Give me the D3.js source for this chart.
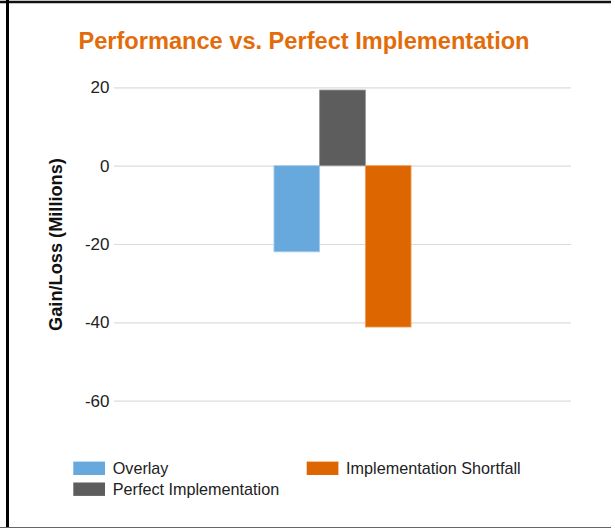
<!DOCTYPE html>
<html>
<head>
<meta charset="utf-8">
<script src="https://cdn.jsdelivr.net/npm/d3@7"></script>
<style>
  html, body { margin: 0; padding: 0; background: #fff; }
  svg { display: block; font-family: "Liberation Sans", Arial, sans-serif; }
</style>
</head>
<body>
<svg id="chart" width="615" height="528"></svg>
<script>
// ---- data ----
const categories = [""];
const seriesNames = ["Overlay", "Perfect Implementation", "Implementation Shortfall"];
const seriesValues = [-22.0, 19.3, -41.2];
const seriesColors = ["#67a9dc", "#5d5d5d", "#de6600"];
const seriesStrokes = ["#a9cdec", "#8e8e8e", "#f0a060"];
const yTicks = [20, 0, -20, -40, -60];
const titleText = "Performance vs. Perfect Implementation";
const yAxisTitle = "Gain/Loss (Millions)";

const svg = d3.select("#chart");
const W = 615, H = 528;
const plot = { left: 114, right: 571, top: 87.3, bottom: 400.7 };

// frame lines
svg.append("line").attr("x1", 0).attr("x2", 611).attr("y1", 2).attr("y2", 2)
  .attr("stroke", "#111").attr("stroke-width", 2.4);
svg.append("line").attr("x1", 7.5).attr("x2", 7.5).attr("y1", 0).attr("y2", H)
  .attr("stroke", "#000").attr("stroke-width", 3);
svg.append("line").attr("x1", 0).attr("x2", 611).attr("y1", 527.5).attr("y2", 527.5)
  .attr("stroke", "#666").attr("stroke-width", 1);

// title
svg.append("text").attr("x", 304).attr("y", 49.3)
  .attr("text-anchor", "middle").attr("font-size", 23.6).attr("font-weight", "bold")
  .attr("fill", "#e36c0a").text(titleText);

// scales
const y = d3.scaleLinear().domain([-60, 20]).range([plot.bottom, plot.top]);
const x0 = d3.scaleBand().domain(categories).range([plot.left, plot.right])
  .paddingInner(0.7).paddingOuter(0.35);
const x1 = d3.scaleBand().domain(seriesNames).range([0, x0.bandwidth()]).padding(0);

// gridlines + y tick labels via axis
const yAxis = d3.axisLeft(y).tickValues(yTicks)
  .tickSize(-(plot.right - plot.left)).tickPadding(4.5).tickFormat(d => String(d));
const gAxis = svg.append("g").attr("transform", `translate(${plot.left},0)`).call(yAxis);
gAxis.select(".domain").remove();
gAxis.selectAll(".tick line").attr("stroke", "#dcdcdc").attr("stroke-width", 1.2);
gAxis.selectAll(".tick text").attr("font-size", 17).attr("fill", "#222")
  .attr("font-family", "Liberation Sans, Arial, sans-serif").attr("x", -4.5);

// y axis title
svg.append("text")
  .attr("transform", `translate(61.5,244.5) rotate(-90)`)
  .attr("text-anchor", "middle").attr("font-size", 18.2).attr("font-weight", "bold")
  .attr("fill", "#111").text(yAxisTitle);

// bars
const barData = seriesNames.map((s, i) => ({ cat: categories[0], name: s, value: seriesValues[i], i }));
svg.append("g").selectAll("rect").data(barData).join("rect")
  .attr("x", d => x0(d.cat) + x1(d.name))
  .attr("width", x1.bandwidth())
  .attr("y", d => y(Math.max(0, d.value)))
  .attr("height", d => Math.abs(y(d.value) - y(0)))
  .attr("fill", d => seriesColors[d.i])
  .attr("stroke", d => seriesStrokes[d.i])
  .attr("stroke-width", 0.8);

// legend
const legendPos = [
  { x: 73.3, y: 468.3 },
  { x: 73.3, y: 489.2 },
  { x: 306.7, y: 468.3 }
];
const lg = svg.append("g").selectAll("g").data(barData).join("g")
  .attr("transform", d => `translate(${legendPos[d.i].x},${legendPos[d.i].y})`);
lg.append("rect").attr("x", 0).attr("y", -6.7).attr("width", 31.7).attr("height", 13.4)
  .attr("fill", d => seriesColors[d.i]);
lg.append("text").attr("x", 39.4).attr("y", 5.8).attr("font-size", 16.2).attr("fill", "#222")
  .text(d => d.name);
</script>
</body>
</html>
